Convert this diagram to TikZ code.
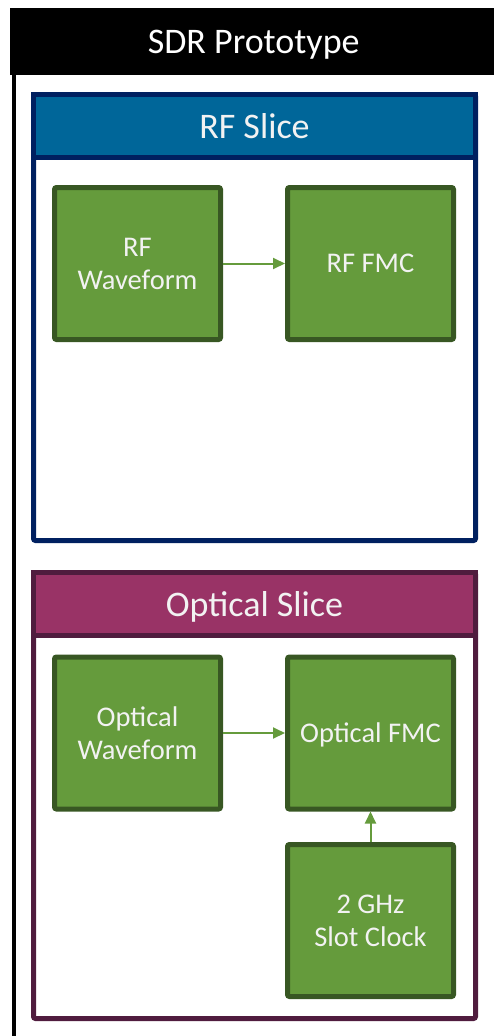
\documentclass[tikz,border=0pt]{standalone}
\usepackage{fontspec}
\setmainfont{Carlito}
\usetikzlibrary{arrows.meta}
\definecolor{boxgreen}{RGB}{101,155,60}
\definecolor{boxline}{RGB}{56,87,35}
\definecolor{rfblue}{RGB}{0,102,153}
\definecolor{rfline}{RGB}{0,32,96}
\definecolor{optpink}{RGB}{153,51,102}
\definecolor{optline}{RGB}{80,28,62}
\definecolor{lighttext}{RGB}{242,242,242}
\tikzset{
  block/.style={draw=boxline, fill=boxgreen, line width=5pt, rounded corners=2pt,
    minimum width=166pt, minimum height=152pt, inner sep=0pt, text depth=0pt,
    text=lighttext, align=center, font=\fontsize{28.5}{33}\selectfont},
  slice/.style={line width=5pt, rounded corners=2pt, outer sep=0pt, inner sep=0pt,
    minimum width=442pt, minimum height=446pt},
  head/.style={line width=5pt, outer sep=0pt, minimum width=442pt, minimum height=63pt,
    anchor=north, text depth=0pt, text=lighttext, font=\fontsize{36}{40}\selectfont},
  link/.style={-{Triangle[length=12pt,width=11pt]}, line width=2pt, draw=boxgreen}
}
\begin{document}
\begin{tikzpicture}[x=1pt,y=1pt]
    \useasboundingbox (0,0) rectangle (493,-1036);
    \node (sdr) [draw, line width=4pt, inner sep=0pt, minimum width=486pt, minimum height=1050pt, anchor=north west] at (12,-10) {};
    \node (sdrhead) [fill=black, minimum width=487pt, minimum height=67pt, anchor=north west, text depth=0pt, text=white, font=\fontsize{36}{40}\selectfont] at (10,-8) {SDR Prototype};
    \node (rf) [slice, draw=rfline] at (254.5,-317.5) {};
    \node (rfhead) [head, draw=rfline, fill=rfblue] at (rf.north) {RF Slice};
    \node (opt) [slice, draw=optline, node distance=478pt, below of=rf] {};
    \node (opthead) [head, draw=optline, fill=optpink] at (opt.north) {Optical Slice};
    \node (rfwave) [block] at (137.5,-263.5) {RF\\Waveform};
    \node (rffmc) [block, node distance=233pt, right of=rfwave] {RF FMC};
    \node (optwave) [block, node distance=469.5pt, below of=rfwave] {Optical\\Waveform};
    \node (optfmc) [block, node distance=233pt, right of=optwave] {Optical FMC};
    \node (clock) [block, node distance=187.5pt, below of=optfmc] {2 GHz\\Slot Clock};
    \draw[link] (rfwave) -- (rffmc);
    \draw[link] (optwave) -- (optfmc);
    \draw[link] (clock) -- (optfmc);
\end{tikzpicture}
\end{document}
